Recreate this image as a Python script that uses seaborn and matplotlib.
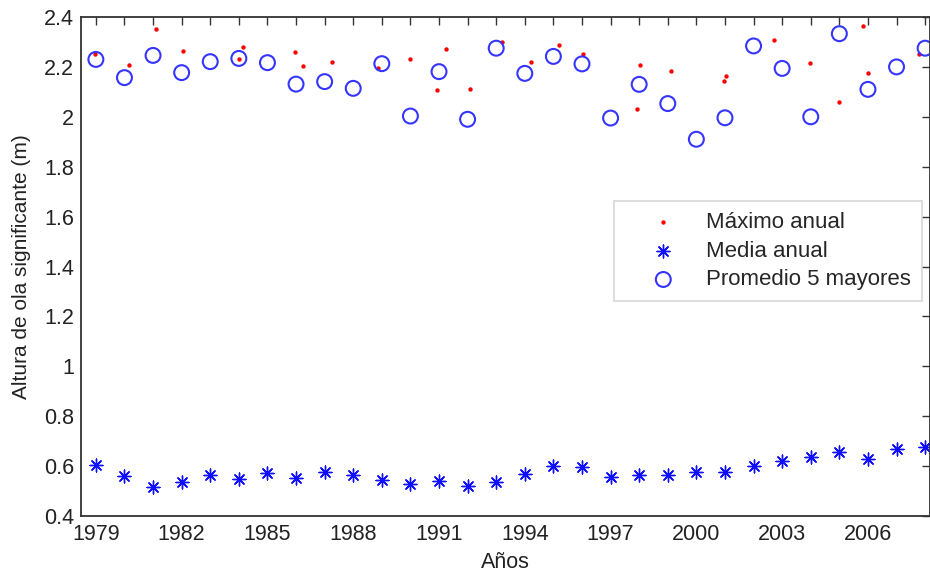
import numpy as np
import pandas as pd
import matplotlib as mpl
mpl.use('Agg')
import matplotlib.pyplot as plt
import seaborn as sns

# annual statistics of significant wave height, 1979-2008
anos = list(range(1979, 2009))
promedio_5 = [2.230, 2.157, 2.246, 2.177, 2.221, 2.234, 2.217, 2.131, 2.141, 2.114,
              2.213, 2.003, 2.181, 1.990, 2.275, 2.174, 2.242, 2.212, 1.995, 2.130,
              2.053, 1.910, 1.996, 2.284, 2.194, 2.000, 2.333, 2.110, 2.200, 2.275]
media_anual = [0.604, 0.559, 0.517, 0.536, 0.563, 0.550, 0.572, 0.551, 0.576, 0.563,
               0.543, 0.528, 0.542, 0.519, 0.536, 0.568, 0.600, 0.598, 0.556, 0.563,
               0.566, 0.575, 0.576, 0.602, 0.619, 0.635, 0.655, 0.627, 0.670, 0.678]
# time of occurrence (fractional year) and value of each annual maximum
max_t = [1978.96, 1980.16, 1981.12, 1982.04, 1983.99, 1984.16, 1985.96, 1986.24, 1987.26,
         1988.88, 1989.97, 1990.92, 1991.24, 1992.09, 1993.20, 1994.23, 1995.18, 1996.05,
         1997.92, 1998.04, 1999.12, 2000.97, 2001.05, 2002.72, 2003.97, 2004.98, 2005.82,
         2006.01, 2007.80]
max_h = [2.250, 2.209, 2.352, 2.264, 2.232, 2.281, 2.258, 2.202, 2.221,
         2.194, 2.233, 2.109, 2.272, 2.110, 2.300, 2.221, 2.287, 2.250,
         2.033, 2.208, 2.184, 2.145, 2.162, 2.308, 2.214, 2.061, 2.364,
         2.176, 2.250]

sns.set_style('white')
plt.rcParams['font.family'] = ['Liberation Sans', 'DejaVu Sans']

df_anual = pd.DataFrame({'ano': anos, 'prom': promedio_5, 'media': media_anual})
df_max = pd.DataFrame({'t': max_t, 'h': max_h})

fig = plt.figure(figsize=(9.30, 5.74), dpi=100)
ax = fig.add_axes([81 / 930, 58 / 574, 849 / 930, 499 / 574])

sns.scatterplot(data=df_max, x='t', y='h', ax=ax, color='red', s=10,
                linewidth=0, label='Máximo anual')
sns.scatterplot(data=df_anual, x='ano', y='media', ax=ax, marker=(8, 2, 0), s=85,
                color='#1010ff', edgecolor='#1010ff', linewidth=1.0, label='Media anual')
sns.scatterplot(data=df_anual, x='ano', y='prom', ax=ax, marker='o', s=115,
                facecolors='none', edgecolor='#3535ff', linewidth=1.5,
                label='Promedio 5 mayores')

ax.set_xlim(1978.48, 2008.17)
ax.set_ylim(0.4, 2.4)
ax.set_xticks(anos)
ax.set_xticklabels([str(a) if (a - 1979) % 3 == 0 else '' for a in anos])
yt = np.round(np.arange(0.4, 2.41, 0.2), 1)
ax.set_yticks(yt)
ax.set_yticklabels(['%g' % v for v in yt])
ax.tick_params(direction='in', length=6, width=1.0, color='#333333',
               top=True, right=True, labelsize=15.5, pad=6, labelcolor='#222222')
ax.tick_params(axis='y', pad=5)
for sp in ax.spines.values():
    sp.set_visible(True)
    sp.set_color('#333333')
    sp.set_linewidth(1.3)

ax.set_xlabel('Años', fontsize=15.5, color='#222222', labelpad=5)
ax.set_ylabel('Altura de ola significante (m)', fontsize=15, color='#222222', labelpad=9)

leg = ax.legend(loc='center right', bbox_to_anchor=(0.99, 0.531), fontsize=16,
                frameon=True, fancybox=False, handletextpad=0.2, borderpad=0.5,
                labelspacing=0.35, handlelength=3.4, markerscale=1.0, borderaxespad=0)
leg.get_frame().set_edgecolor('#cccccc')
leg.get_frame().set_linewidth(1.2)

fig.savefig('out.png', dpi=100)
